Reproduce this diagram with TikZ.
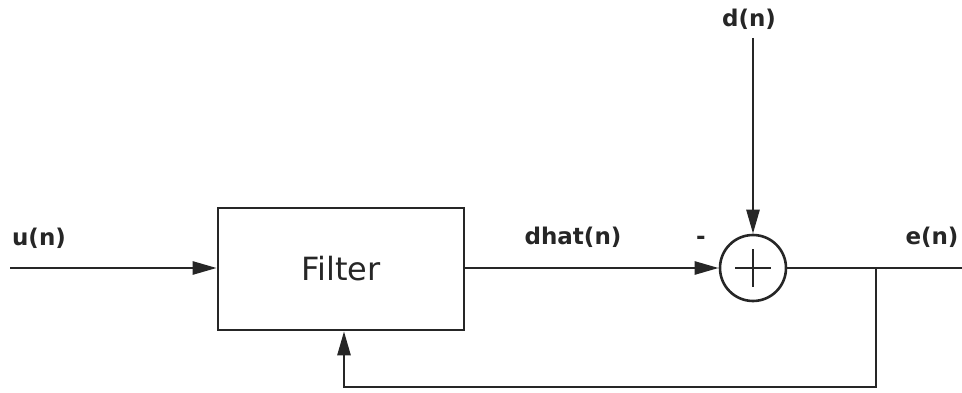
\documentclass[tikz,border=0pt]{standalone}
\usepackage{fontspec}
\setmainfont{DejaVu Sans}
\usetikzlibrary{arrows.meta,calc}
\begin{document}
\begin{tikzpicture}[x=1pt,y=-1pt,
  wire/.style={line width=2.6pt,draw=black!85},
  sig/.style={wire,-{Triangle[length=24pt,width=13pt]}},
  lbl/.style={font=\fontsize{23}{25}\selectfont\bfseries,text=black!85,inner sep=0pt},
  block/.style={wire,minimum width=246pt,minimum height=122pt,inner sep=0pt,
    font=\fontsize{32}{34}\selectfont,text=black!85},
  sumnode/.style={wire,circle,minimum size=66pt,inner sep=0pt}]
\useasboundingbox (0,0) rectangle (962,393);
% blocks
\node[block] (filt) at (341,269) {Filter};
\node[sumnode] (sum) at (753,268) {};
\draw[wire,line width=2.2pt] ($(sum.center)+(-18,0)$) -- ($(sum.center)+(18,0)$)
  ($(sum.center)+(0,-19)$) -- ($(sum.center)+(0,19)$);
% terminals
\coordinate (in) at (10,268);
\coordinate (dtop) at (753,38);
\coordinate (out) at (962,268);
\coordinate (tap) at (876,268);
\coordinate (bl) at (876,387);
\coordinate (br) at (344,387);
% connectors
\draw[sig] (in) -- (in -| filt.west);
\draw[sig] (filt.east |- sum.west) -- (sum.west);
\draw[sig] (dtop) -- (sum.north);
\draw[wire] (sum.east) -- (out);
\draw[sig] (tap) -- (bl) -- (br) -- (br |- filt.south);
% labels
\node[lbl] (lu) at (39,238) {u(n)};
\node[lbl] (ld) at (749,19) {d(n)};
\node[lbl] (ldh) at (573,237) {dhat(n)};
\node[lbl] (le) at (932,237) {e(n)};
\node[lbl] (lm) at (701,240) {-};
\end{tikzpicture}
\end{document}
